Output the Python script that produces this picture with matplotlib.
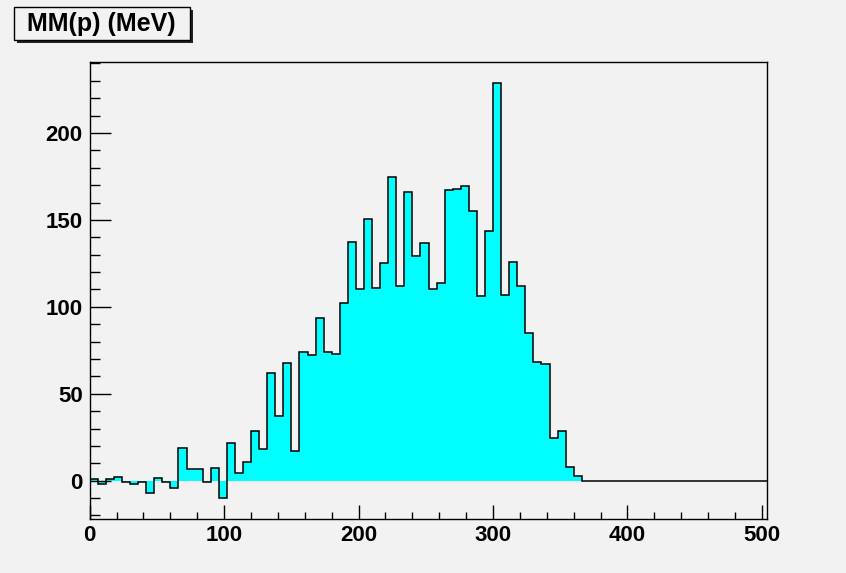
import numpy as np
import matplotlib
matplotlib.use("Agg")
import matplotlib.pyplot as plt
from matplotlib.patches import Rectangle
from matplotlib.ticker import MultipleLocator

# ---- data -------------------------------------------------------------
title_text = "MM(p) (MeV)"
bin_width = 6
x_start = 0
counts = [
    1, -2, 1, 2, -1, -2, -1, -7, 1.5, -0.5, -4, 19, 7, 7, -1, 7.5, -10,
    21.5, 4.5, 10.5, 28.5, 18, 62, 37, 67.5, 17, 74, 72.5, 93.5, 74, 73,
    102, 137.5, 110, 150.5, 111,
    125.5, 174.5, 112, 166, 129.5, 136.5, 110, 114, 167, 167.5, 169.5, 155,
    106, 143.5, 228.5, 107, 126, 112, 85, 68.5, 67, 24.5, 28.5, 8, 2.5,
    0, 0, 0, 0, 0, 0, 0, 0, 0, 0, 0, 0, 0, 0, 0, 0, 0, 0, 0, 0, 0, 0, 0,
]
x_major = [0, 100, 200, 300, 400, 500]
y_major = [0, 50, 100, 150, 200]

# ---- figure -----------------------------------------------------------
W, H = 846, 573
bg = "#f2f2f2"
fig = plt.figure(figsize=(W / 100, H / 100), dpi=100, facecolor=bg)
ax = fig.add_axes([89.7 / W, 1 - 519.3 / H, (767.3 - 89.7) / W, (519.3 - 61.7) / H])
ax.set_facecolor(bg)

vals = np.array(counts, dtype=float)
edges = x_start + bin_width * np.arange(len(vals) + 1)

ax.stairs(vals, edges, baseline=0, fill=True, color="#00ffff", lw=0)
ax.stairs(vals, edges, baseline=0, fill=False, color="black", lw=1.1)

ax.set_xlim(0, 504)
ax.set_ylim(-22.2, 241)

ax.set_xticks(x_major)
ax.set_yticks(y_major)
ax.xaxis.set_minor_locator(MultipleLocator(20))
ax.yaxis.set_minor_locator(MultipleLocator(10))

lab_font = dict(family=["Liberation Sans", "DejaVu Sans"], weight="bold", size=16)
ax.set_xticklabels([str(v) for v in x_major], **lab_font)
ax.set_yticklabels([str(v) for v in y_major], **lab_font)

ax.tick_params(axis="x", which="major", direction="in", length=10, width=1, pad=4,
               top=False, bottom=True)
ax.tick_params(axis="x", which="minor", direction="in", length=5, width=1,
               top=False, bottom=True)
ax.tick_params(axis="y", which="major", direction="in", length=15, width=1, pad=5,
               left=True, right=False)
ax.tick_params(axis="y", which="minor", direction="in", length=7.5, width=1,
               left=True, right=False)

for s in ax.spines.values():
    s.set_linewidth(1.0)
    s.set_color("black")

# ---- title box (ROOT style with shadow) -------------------------------
def px_rect(x0, y0, x1, y1, **kw):
    return Rectangle((x0 / W, 1 - y1 / H), (x1 - x0) / W, (y1 - y0) / H,
                     transform=fig.transFigure, **kw)

fig.patches.append(px_rect(17, 10, 192.5, 42.5, facecolor="#222222", edgecolor="none"))
fig.patches.append(px_rect(14, 7.5, 189.5, 39.5, facecolor=bg, edgecolor="black", lw=1))
fig.text(101 / W, 1 - 23.5 / H, title_text, ha="center", va="center",
         family=["Liberation Sans", "DejaVu Sans"], weight="bold", size=18)

fig.savefig("out.png", dpi=100, facecolor=bg)
